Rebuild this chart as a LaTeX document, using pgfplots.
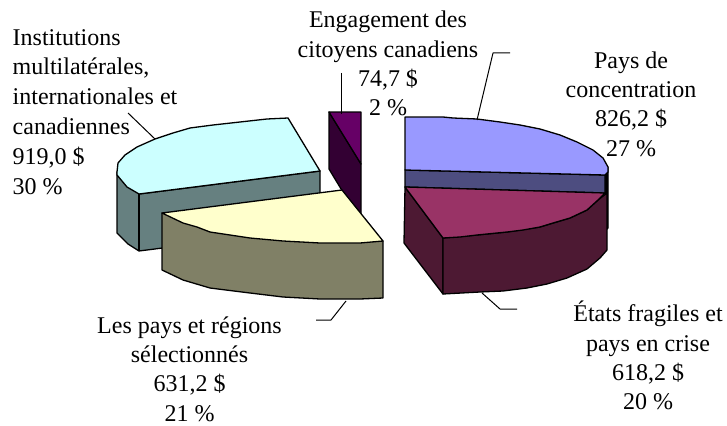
\documentclass[border=0pt]{standalone}
\usepackage{pgfplots}
\pgfplotsset{compat=1.18}
\usepackage{fontspec}
\setmainfont{Liberation Serif}
\definecolor{cyanT}{HTML}{CCFFFF}
\definecolor{cyanS}{HTML}{668080}
\definecolor{yelT}{HTML}{FFFFCC}
\definecolor{yelS}{HTML}{808066}
\definecolor{bluT}{HTML}{9999FF}
\definecolor{bluS}{HTML}{4D4D80}
\definecolor{magT}{HTML}{993366}
\definecolor{magS}{HTML}{4D1933}
\definecolor{purT}{HTML}{660066}
\definecolor{purS}{HTML}{330033}
\begin{document}
\begin{tikzpicture}
\begin{axis}[
  width=727pt,height=425pt,scale only axis,
  xmin=0,xmax=727,ymin=0,ymax=425,y dir=reverse,
  axis lines=none,clip=false,
  every axis plot/.append style={line width=1.3pt,line join=round,no markers},
]
% invisible frame to fix the page size
\addplot[draw=none] coordinates {(0,0) (727,425)};
% cyan slice
\addplot[fill=cyanS,draw=black] coordinates {(117,172) (117,233) (128,244) (139,251) (320,228) (320,171) (139,194)} --cycle;
\addplot[draw=black] coordinates {(139,194) (139,251)};
\addplot[fill=cyanT,draw=black] coordinates {(288,118) (320,171) (139,194) (127,187) (117,175) (117,172) (118,163) (125,155) (137,147) (155,139) (173,133) (190,128) (213,125) (240,122) (267,119)} --cycle;
% purple slice
\addplot[fill=purS,draw=black] coordinates {(329,112) (361,164) (361,222) (329,169)} --cycle;
\addplot[fill=purT,draw=black] coordinates {(329,112) (361,112) (361,164)} --cycle;
% yellow slice
\addplot[fill=yelS,draw=black] coordinates {(162,213) (162,270) (183,280) (210,288) (250,293) (283,297) (320,299) (360,299) (383,298) (383,241)} --cycle;
\addplot[fill=yelT,draw=black] coordinates {(342,190) (383,241) (360,243) (320,243) (283,241) (250,238) (230,235) (210,232) (197,227) (183,223) (162,213)} --cycle;
% blue slice
\addplot[fill=black,draw=black] coordinates {(605,175) (608,167) (608,228) (606,230)} --cycle;
\addplot[fill=bluS,draw=black] coordinates {(405,170) (605,175) (605,193) (405,187)} --cycle;
\addplot[fill=bluT,draw=black] coordinates {(405,117) (443,117) (453,118) (477,119) (500,122) (520,125) (540,129) (560,135) (577,142) (593,150) (603,158) (608,167) (608,172) (605,175) (405,170)} --cycle;
% magenta slice
\addplot[fill=magS,draw=black] coordinates {(405,187) (443,238) (443,294) (404,243)} --cycle;
\addplot[fill=magS,draw=black] coordinates {(443,238) (477,235) (507,232) (540,227) (570,218) (587,210) (598,200) (607,193) (607,250) (600,258) (587,269) (567,278) (547,284) (527,288) (503,291) (480,292) (443,294)} --cycle;
\addplot[fill=magT,draw=black] coordinates {(405,187) (605,193) (598,200) (587,210) (570,218) (553,223) (540,227) (523,230) (507,232) (477,235) (460,237) (443,238)} --cycle;
% leader lines
\addplot[draw=black,line width=1pt] coordinates {(128,113) (155,139)};
\addplot[draw=black,line width=1pt] coordinates {(341,73) (341,114)};
\addplot[draw=black,line width=1pt] coordinates {(510,53) (493,53) (477,120)};
\addplot[draw=black,line width=1pt] coordinates {(346,301) (331,320) (316,320)};
\addplot[draw=black,line width=1pt] coordinates {(482,293) (500,309) (517,309)};
% labels
\tikzset{lab/.style={font=\fontsize{24}{29.3}\selectfont,inner sep=0pt,anchor=north,align=center}}
\node[lab] at (axis cs:388,11) {Engagement des\\citoyens canadiens\\74,7 \$\\2 \%};
\node[lab,font=\fontsize{24}{29.8}\selectfont,align=left,anchor=north west] at (axis cs:12.5,29) {Institutions\\multilatérales,\\internationales et\\canadiennes\\919,0 \$\\30 \%};
\node[lab] at (axis cs:631,51.5) {Pays de\\concentration\\826,2 \$\\27 \%};
\node[lab] at (axis cs:189.5,316.5) {Les pays et régions\\sélectionnés\\631,2 \$\\21 \%};
\node[lab] at (axis cs:648,301) {États fragiles et\\pays en crise\\618,2 \$\\20 \%};
\end{axis}
\end{tikzpicture}
\end{document}
